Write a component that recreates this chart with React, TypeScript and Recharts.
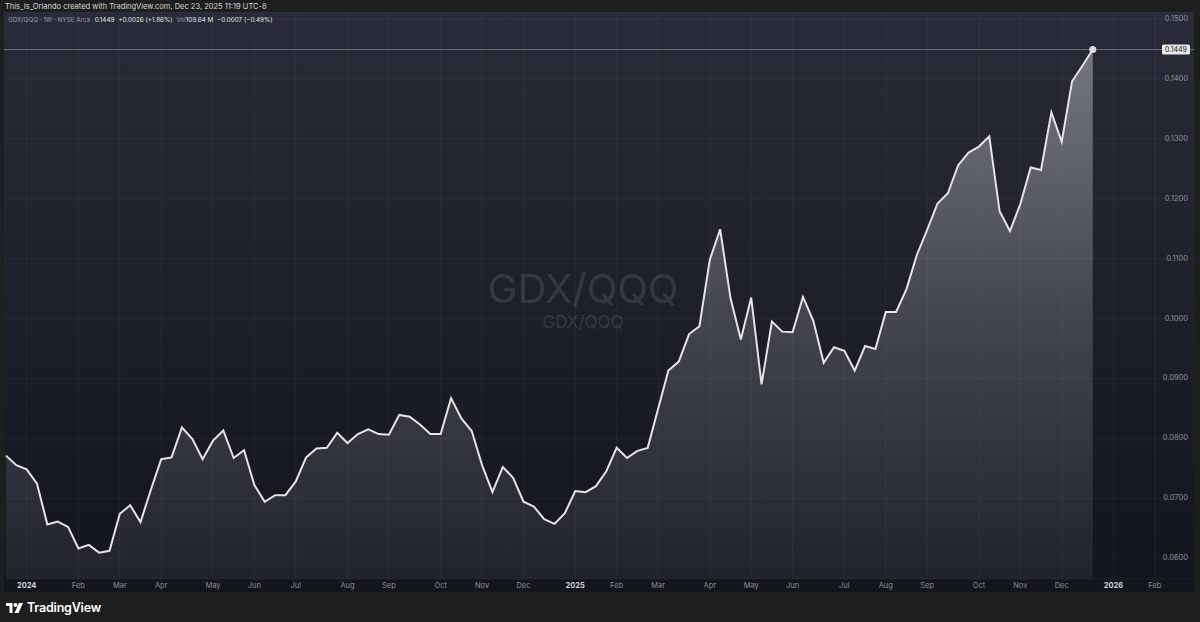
import React from "react";
import {
  ComposedChart,
  Area,
  XAxis,
  YAxis,
  CartesianGrid,
  ReferenceLine,
  ReferenceDot,
} from "recharts";

// GDX/QQQ weekly close, first value is the week of Dec 18 2023
const ratio = [
  0.0771, 0.0755,
  0.0748, 0.0724, 0.0656, 0.0661, 0.0652,
  0.0616, 0.0622, 0.0609, 0.0612,
  0.0674, 0.0688, 0.066, 0.0714,
  0.0765, 0.0768, 0.0818, 0.0799, 0.0765,
  0.0796, 0.0813, 0.0767, 0.078,
  0.0722, 0.0694, 0.0705, 0.0705,
  0.0728, 0.0768, 0.0783, 0.0784, 0.0809,
  0.0792, 0.0807, 0.0815, 0.0807,
  0.0806, 0.0839, 0.0836, 0.0823, 0.0807,
  0.0807, 0.0867, 0.0833, 0.0812,
  0.0755, 0.071, 0.0752, 0.0734,
  0.0694, 0.0686, 0.0665, 0.0657, 0.0675,
  0.0712, 0.071, 0.072, 0.0745,
  0.0784, 0.0767, 0.0779, 0.0784,
  0.0849, 0.0913, 0.0928, 0.0974, 0.0987,
  0.1098, 0.1149, 0.1034, 0.0965,
  0.1035, 0.089, 0.0995, 0.0978,
  0.0977, 0.1036, 0.0996, 0.0926, 0.0952,
  0.0946, 0.0913, 0.0954, 0.0949,
  0.1011, 0.1011, 0.1049, 0.1106,
  0.1148, 0.1192, 0.1209, 0.1256, 0.1277,
  0.1287, 0.1304, 0.1179, 0.1146,
  0.1191, 0.1252, 0.1248, 0.1344,
  0.1295, 0.1396, 0.1422, 0.1449,
];
const FIRST_WEEK = -2; // week index of ratio[0], 0 = week of Jan 1 2024

// first weekly bar of each month
const monthTicks = [0, 5, 9, 13, 18, 22, 26, 31, 35, 40, 44, 48, 53, 57, 61, 66, 70, 74, 79, 83, 87, 92, 96, 100, 105, 109];
const monthLabels = [
  "2024", "Feb", "Mar", "Apr", "May", "Jun", "Jul", "Aug", "Sep", "Oct", "Nov", "Dec",
  "2025", "Feb", "Mar", "Apr", "May", "Jun", "Jul", "Aug", "Sep", "Oct", "Nov", "Dec",
  "2026", "Feb",
];
const priceTicks = [0.06, 0.07, 0.08, 0.09, 0.1, 0.11, 0.12, 0.13, 0.14, 0.15];
const lastClose = 0.1449;

const data = ratio.map((v, i) => ({ week: FIRST_WEEK + i, close: v }));
const lastWeek = FIRST_WEEK + ratio.length - 1;

const FONT = "Inter, Roboto, 'Noto Sans', sans-serif";
const W = 1190;
const H = 580;
const PLOT_H = 567;

function TimeTick(props: any) {
  const { x, payload } = props;
  const i = monthTicks.indexOf(payload.value);
  const label = monthLabels[i] ?? "";
  const isYear = /^\d{4}$/.test(label);
  return (
    <text
      x={x}
      y={PLOT_H + 7}
      textAnchor="middle"
      dominantBaseline="middle"
      fontSize={7.5}
      fontFamily={FONT}
      fontWeight={isYear ? 700 : 400}
      fill={isYear ? "#d1d4dc" : "#8b8e98"}
    >
      {label}
    </text>
  );
}

function PriceTick(props: any) {
  const { y, payload } = props;
  return (
    <text
      x={W - 6}
      y={y}
      textAnchor="end"
      dominantBaseline="middle"
      fontSize={7.5}
      fontFamily={FONT}
      fill="#8b8e98"
    >
      {Number(payload.value).toFixed(4)}
    </text>
  );
}

function LastLabel(props: any) {
  const { viewBox } = props;
  const y = viewBox.y;
  return (
    <g>
      <rect x={W - 32} y={y - 5} width={28} height={10} rx={1.5} fill="#e6e7ea" />
      <text
        x={W - 18}
        y={y + 0.5}
        textAnchor="middle"
        dominantBaseline="middle"
        fontSize={7}
        fontFamily={FONT}
        fill="#131722"
      >
        {lastClose.toFixed(4)}
      </text>
    </g>
  );
}

export default function App() {
  return (
    <div
      style={{
        position: "absolute",
        left: 0,
        top: 0,
        width: 1200,
        height: 622,
        background: "#1e1e1e",
        fontFamily: FONT,
        overflow: "hidden",
      }}
    >
      <div style={{ position: "absolute", left: 5, top: 2, fontSize: 7.5, color: "#d9d9d9" }}>
        This_Is_Orlando created with TradingView.com, Dec 23, 2025 11:19 UTC-8
      </div>

      <div
        style={{
          position: "absolute",
          left: 4,
          top: 12,
          width: W,
          height: H,
          background: "linear-gradient(180deg, #292c38 0%, #1d2029 50%, #13151d 100%)",
        }}
      >
        <div
          style={{
            position: "absolute",
            left: 579,
            top: 254,
            transform: "translateX(-50%)",
            textAlign: "center",
            color: "#343843",
            whiteSpace: "nowrap",
          }}
        >
          <div style={{ fontSize: 40, lineHeight: "46px" }}>GDX/QQQ</div>
          <div style={{ fontSize: 17, lineHeight: "20px", marginTop: 0 }}>GDX/QQQ</div>
        </div>

        <div style={{ position: "absolute", left: 4, top: 4, fontSize: 6.3, color: "#9598a1", whiteSpace: "nowrap" }}>
          GDX/QQQ · 1W · NYSE Arca{" "}
          <span style={{ color: "#e1e3e8", marginLeft: 3 }}>0.1449</span>
          <span style={{ color: "#e1e3e8", marginLeft: 4 }}>+0.0026 (+1.86%)</span>
          <span style={{ marginLeft: 4 }}>Vol</span>
          <span style={{ color: "#e1e3e8" }}>109.64 M</span>
          <span style={{ color: "#e1e3e8", marginLeft: 4 }}>−0.0007 (−0.49%)</span>
        </div>

        <div style={{ position: "absolute", left: 0, top: 0 }}>
          <ComposedChart
            width={W}
            height={H}
            data={data}
            margin={{ top: 0, right: 0, bottom: 0, left: 0 }}
          >
            <defs>
              <linearGradient id="areaFill" x1="0" y1="0" x2="0" y2="1">
                <stop offset="0%" stopColor="#f4f5fa" stopOpacity={0.62} />
                <stop offset="50%" stopColor="#f4f5fa" stopOpacity={0.3} />
                <stop offset="100%" stopColor="#f4f5fa" stopOpacity={0.1} />
              </linearGradient>
            </defs>
            <CartesianGrid stroke="#ffffff" strokeOpacity={0.045} />
            <XAxis
              dataKey="week"
              type="number"
              domain={[-2.19, 112.78]}
              ticks={monthTicks}
              interval={0}
              height={13}
              axisLine={false}
              tickLine={false}
              tickSize={0}
              tick={<TimeTick />}
              allowDataOverflow
            />
            <YAxis
              orientation="right"
              mirror
              type="number"
              domain={[0.0565, 0.15117]}
              ticks={priceTicks}
              interval={0}
              width={40}
              axisLine={false}
              tickLine={false}
              tick={<PriceTick />}
              allowDataOverflow
            />
            <Area
              type="linear"
              dataKey="close"
              stroke="#e4e4e6"
              strokeWidth={2}
              fill="url(#areaFill)"
              baseValue="dataMin"
              dot={false}
              activeDot={false}
              isAnimationActive={false}
            />
            <ReferenceLine
              y={lastClose}
              stroke="#6a6d77"
              strokeWidth={1}
              label={<LastLabel />}
            />
            <ReferenceDot x={lastWeek} y={lastClose} r={3.5} fill="#dcdde1" stroke="none" />
          </ComposedChart>
        </div>
      </div>

      <div
        style={{
          position: "absolute",
          left: 6,
          top: 600,
          display: "flex",
          alignItems: "center",
          gap: 3,
          color: "#ffffff",
        }}
      >
        <svg width={18} height={12} viewBox="0 0 36 24">
          <path d="M0 2h13v20H7V8H0z" fill="#ffffff" />
          <circle cx="19" cy="6" r="4" fill="#ffffff" />
          <path d="M26 2h8l-9 20h-8z" fill="#ffffff" />
        </svg>
        <span style={{ fontSize: 12.5, fontWeight: 600, letterSpacing: -0.2 }}>TradingView</span>
      </div>
    </div>
  );
}
